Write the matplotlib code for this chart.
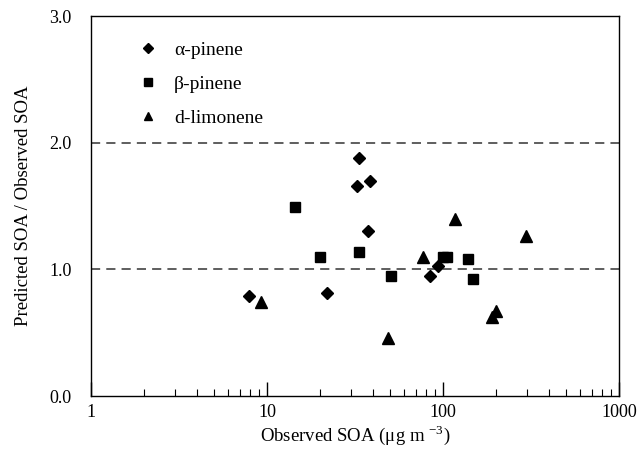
import matplotlib
matplotlib.use("Agg")
import matplotlib.pyplot as plt
from matplotlib.ticker import LogLocator, NullFormatter, FixedLocator

# observed SOA (ug m-3) and predicted/observed ratio
a_pinene_x = [7.9, 22.0, 32.3, 33.5, 37.3, 38.3, 84.7, 93.3]
a_pinene_y = [0.79, 0.81, 1.66, 1.88, 1.30, 1.70, 0.95, 1.03]

b_pinene_x = [14.4, 20.0, 33.5, 50.6, 99.6, 106.0, 138.0, 149.0]
b_pinene_y = [1.49, 1.10, 1.14, 0.95, 1.10, 1.10, 1.08, 0.92]

limonene_x = [9.3, 48.5, 76.9, 117.0, 190.0, 200.0, 295.0]
limonene_y = [0.74, 0.46, 1.10, 1.40, 0.62, 0.67, 1.26]

ref_lines = [1.0, 2.0]

plt.rcParams['font.family'] = ['Liberation Serif', 'DejaVu Serif']
plt.rcParams['mathtext.fontset'] = 'custom'
plt.rcParams['mathtext.rm'] = 'Liberation Serif'

fig = plt.figure(figsize=(6.38, 4.68), dpi=100)
ax = fig.add_axes([0.1426, 0.1538, 0.8276, 0.812])

for y in ref_lines:
    ax.axhline(y, color='#333333', lw=1.1, ls=(0, (6, 4)), zorder=1)

ax.plot(a_pinene_x, a_pinene_y, 'D', color='black', ms=6.5, ls='none', label='α-pinene')
ax.plot(b_pinene_x, b_pinene_y, 's', color='black', ms=7.5, ls='none', label='β-pinene')
ax.plot(limonene_x, limonene_y, '^', color='black', ms=8, ls='none', label='d-limonene')

ax.set_xscale('log')
ax.set_xlim(1, 1000)
ax.set_ylim(0, 3)
ax.xaxis.set_major_locator(FixedLocator([1, 10, 100, 1000]))
ax.xaxis.set_minor_locator(LogLocator(base=10, subs=range(2, 10)))
ax.xaxis.set_minor_formatter(NullFormatter())
ax.set_xticklabels(['1', '10', '100', '1000'])
ax.set_yticks([0, 1, 2, 3])
ax.set_yticklabels(['0.0', '1.0', '2.0', '3.0'])

ax.tick_params(axis='x', which='major', direction='in', length=10, width=1, labelsize=13, pad=6)
ax.tick_params(axis='x', which='minor', direction='in', length=5, width=0.8)
ax.tick_params(axis='y', which='major', direction='in', length=0, labelsize=13, pad=14)

for s in ax.spines.values():
    s.set_linewidth(1.0)

ax.set_xlabel('Observed SOA (μg m $^{\\mathrm{-3}}$)', fontsize=13.5, labelpad=1)
ax.set_ylabel('Predicted SOA / Observed SOA', fontsize=13.5, labelpad=12)

ax.legend(loc='upper left', frameon=False, fontsize=14, handletextpad=0.6,
          labelspacing=0.85, borderaxespad=0.9, handlelength=1.5, markerscale=0.75,
          bbox_to_anchor=(0.032, 1.0))

fig.savefig('out.png', dpi=100)
